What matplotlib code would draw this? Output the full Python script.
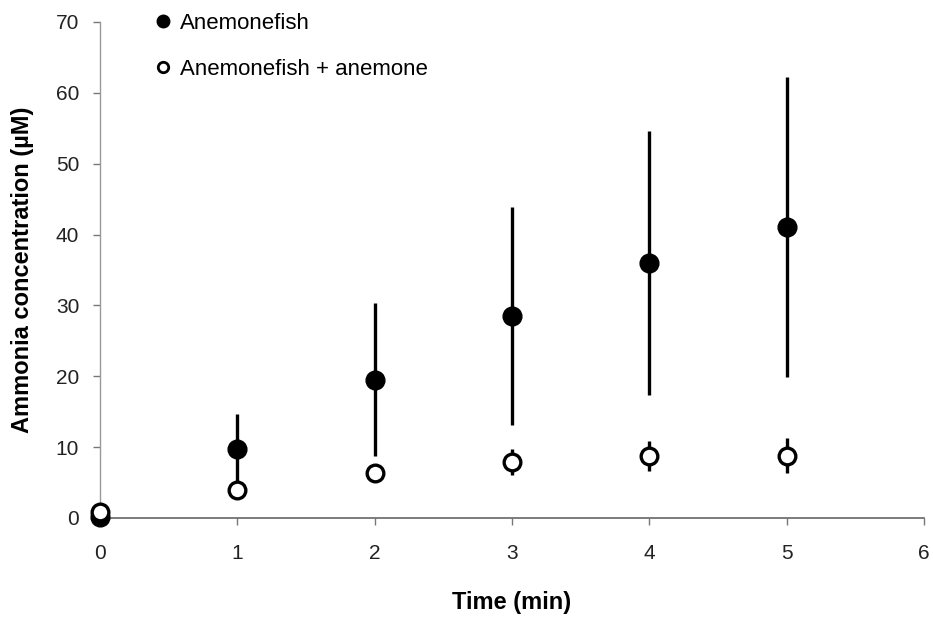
import matplotlib
matplotlib.use('Agg')
import matplotlib.pyplot as plt
from matplotlib.lines import Line2D

plt.rcParams['font.family'] = ['Liberation Sans', 'DejaVu Sans']

# ----------------------------
# Data
# ----------------------------
time_min = [0, 1, 2, 3, 4, 5]

fish_mean = [0.2, 9.7, 19.5, 28.5, 36.0, 41.1]
fish_err = [0.0, 5.0, 10.8, 15.4, 18.6, 21.2]

fish_anem_mean = [0.8, 4.0, 6.4, 7.9, 8.8, 8.8]
fish_anem_err = [0.3, 0.8, 1.0, 1.8, 2.1, 2.5]

xticks = [0, 1, 2, 3, 4, 5, 6]
yticks = [0, 10, 20, 30, 40, 50, 60, 70]

# ----------------------------
# Figure
# ----------------------------
fig = plt.figure(figsize=(9.33, 6.19), dpi=100)
ax = fig.add_axes([0.1072, 0.1632, 0.8832, 0.8013])

fish = ax.errorbar(time_min, fish_mean, yerr=fish_err, fmt='o',
                   color='black', ms=13.5, elinewidth=2.4, capsize=0,
                   zorder=3)
anem = ax.errorbar(time_min, fish_anem_mean, yerr=fish_anem_err, fmt='o',
                   color='black', mfc='white', mec='black', mew=2.4,
                   ms=12, elinewidth=2.4, capsize=0, zorder=4)
for eb in (fish, anem):
    eb[0].set_clip_on(False)

ax.set_xlim(0, 6)
ax.set_ylim(0, 70)
ax.set_xticks(xticks)
ax.set_yticks(yticks)
ax.tick_params(labelsize=15, length=5, width=1, colors='#777777',
               labelcolor='#222222')
ax.tick_params(axis='x', pad=14)
ax.tick_params(axis='y', pad=10)

for s in ['top', 'right']:
    ax.spines[s].set_visible(False)
ax.spines['left'].set_color('#999999')
ax.spines['bottom'].set_color('#666666')
ax.spines['left'].set_linewidth(1)
ax.spines['bottom'].set_linewidth(1.2)

ax.set_xlabel('Time (min)', fontsize=17, fontweight='bold', labelpad=20)
ax.set_ylabel('Ammonia concentration (\u00b5M)', fontsize=17,
              fontweight='bold', labelpad=16)

handles = [
    Line2D([], [], marker='o', ls='none', color='black', ms=9),
    Line2D([], [], marker='o', ls='none', color='black', mfc='white',
           mew=2, ms=7.5),
]
ax.legend(handles, ['Anemonefish', 'Anemonefish + anemone'],
          loc='upper left', bbox_to_anchor=(0.054, 1.04), frameon=False,
          fontsize=16, handlelength=0.7, handletextpad=0.4,
          labelspacing=1.1, borderpad=0)

fig.savefig('out.png', dpi=100)
plt.close()
